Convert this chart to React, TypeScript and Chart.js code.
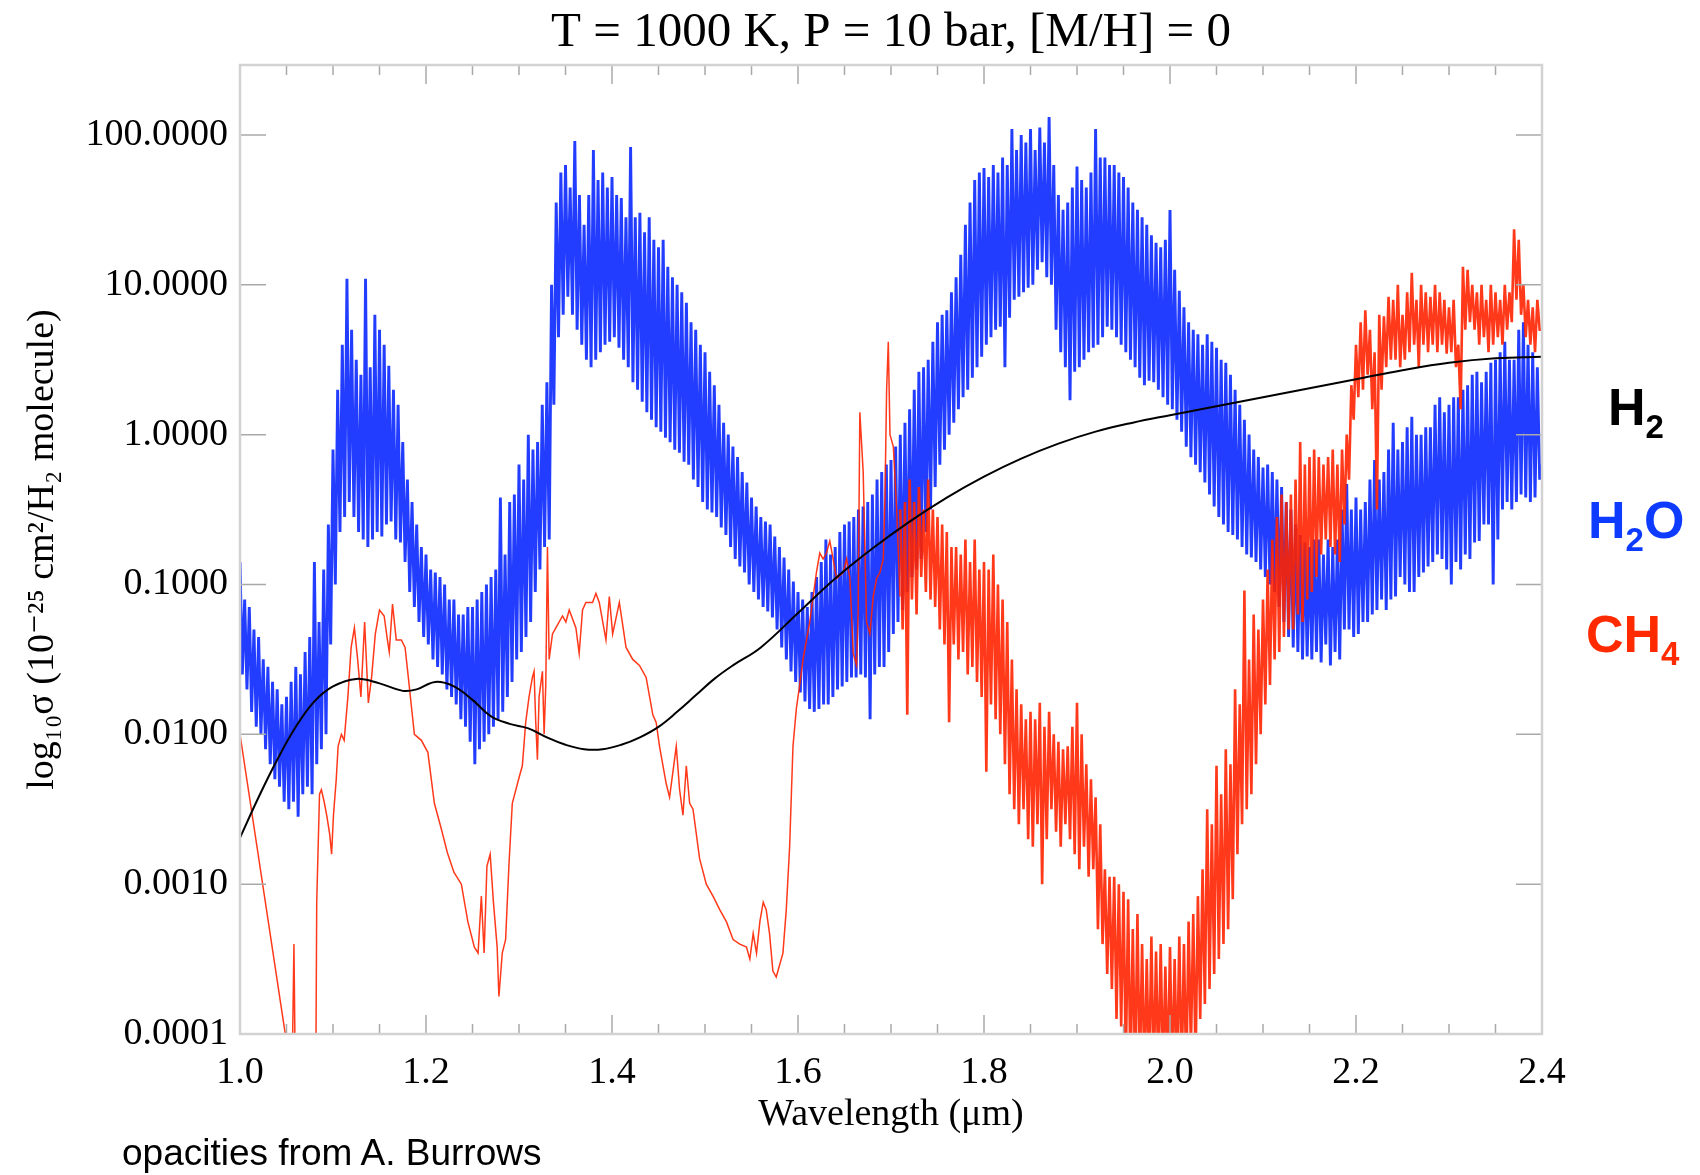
import React, { useEffect, useRef } from "react";
import { Chart, registerables } from "chart.js";

Chart.register(...registerables);

const TITLE = "T = 1000 K, P = 10 bar, [M/H] = 0";
const X_TITLE = "Wavelength (μm)";
const Y_TITLE = "log₁₀σ (10⁻²⁵ cm²/H₂ molecule)";
const FOOTNOTE = "opacities from A. Burrows";

const X_TICKS = [1.0, 1.2, 1.4, 1.6, 1.8, 2.0, 2.2, 2.4];
const Y_TICKS = [-4, -3, -2, -1, 0, 1, 2];
const Y_TICK_LABELS = ["0.0001", "0.0010", "0.0100", "0.1000", "1.0000", "10.0000", "100.0000"];
const X_MIN = 1.0;
const X_MAX = 2.4;
const Y_MIN = -4;
const Y_MAX = 2.467;

// H2 collision-induced opacity (smooth), log10 sigma
const H2_WAVE = [
  1.0, 1.02, 1.04, 1.06, 1.08, 1.1, 1.125, 1.15, 1.175, 1.19, 1.21, 1.23, 1.25, 1.27, 1.29,
  1.31, 1.33, 1.35, 1.37, 1.39, 1.41, 1.43, 1.45, 1.47, 1.49, 1.51, 1.53, 1.56, 1.6, 1.64,
  1.68, 1.72, 1.76, 1.8, 1.84, 1.88, 1.92, 1.96, 2.0, 2.05, 2.1, 2.15, 2.2, 2.25, 2.3, 2.35, 2.4,
];
const H2_LOGSIGMA = [
  -2.69, -2.42, -2.17, -1.95, -1.78, -1.68, -1.63, -1.66, -1.71, -1.7, -1.65, -1.68, -1.77, -1.88, -1.93,
  -1.96, -2.02, -2.07, -2.1, -2.1, -2.07, -2.02, -1.95, -1.85, -1.74, -1.63, -1.54, -1.42, -1.19, -0.96,
  -0.76, -0.58, -0.42, -0.28, -0.16, -0.06, 0.02, 0.08, 0.13, 0.19, 0.25, 0.31, 0.37, 0.43, 0.48, 0.51, 0.52,
];

// H2O opacity on a regular wavelength grid from 1.0 to 2.4 um, log10 sigma
const H2O_LOGSIGMA = [
  -0.85, -1.6, -1.1, -1.7,
  -1.15, -1.85, -1.3, -1.95,
  -1.35, -2.0, -1.5, -2.1,
  -1.55, -2.2, -1.65, -2.3,
  -1.7, -2.35, -1.8, -2.45,
  -1.75, -2.5, -1.65, -2.45,
  -1.55, -2.55, -1.6, -2.4,
  -1.45, -2.35, -1.35, -2.4,
  -0.85, -2.2, -1.25, -2.1,
  -0.9, -2.0, -0.6, -1.4,
  -0.1, -1.0, 0.3, -0.65,
  0.6, -0.55, 1.04, -0.45,
  0.7, -0.55, 0.5, -0.65,
  0.4, -0.7, 1.04, -0.75,
  0.45, -0.7, 0.8, -0.65,
  0.7, -0.68, 0.6, -0.6,
  0.46, -0.58, 0.3, -0.7,
  0.2, -0.72, -0.05, -0.85,
  -0.3, -1.05, -0.45, -1.15,
  -0.6, -1.25, -0.75, -1.35,
  -0.8, -1.4, -0.9, -1.5,
  -0.92, -1.55, -0.95, -1.6,
  -1.0, -1.7, -1.1, -1.75,
  -1.1, -1.8, -1.2, -1.9,
  -1.2, -1.95, -1.15, -2.05,
  -1.15, -2.2, -1.1, -2.1,
  -1.05, -2.05, -1.0, -2.0,
  -0.95, -1.95, -0.9, -1.9,
  -0.42, -1.85, -0.8, -1.75,
  -0.45, -1.65, -0.4, -1.5,
  -0.2, -1.45, -0.3, -1.35,
  0.0, -1.25, -0.1, -1.05,
  -0.05, -0.9, 0.2, -0.75,
  0.35, -0.7, 1.0, 0.2,
  1.55, 0.65, 1.75, 0.8,
  1.8, 0.92, 1.65, 0.8,
  1.96, 0.7, 1.6, 0.6,
  1.4, 0.5, 1.6, 0.45,
  1.9, 0.5, 1.7, 0.55,
  1.75, 0.6, 1.65, 0.62,
  1.72, 0.65, 1.6, 0.58,
  1.58, 0.5, 1.45, 0.45,
  1.92, 0.35, 1.45, 0.3,
  1.48, 0.22, 1.35, 0.15,
  1.45, 0.1, 1.3, 0.05,
  1.25, 0.02, 1.3, -0.02,
  1.12, -0.05, 1.05, -0.1,
  1.0, -0.12, 0.95, -0.18,
  0.88, -0.2, 0.75, -0.3,
  0.7, -0.35, 0.6, -0.45,
  0.55, -0.5, 0.42, -0.52,
  0.33, -0.55, 0.2, -0.62,
  0.08, -0.67, 0.0, -0.75,
  -0.08, -0.83, -0.15, -0.88,
  -0.25, -0.92, -0.32, -1.0,
  -0.42, -1.05, -0.48, -1.1,
  -0.55, -1.15, -0.58, -1.18,
  -0.6, -1.22, -0.68, -1.3,
  -0.75, -1.42, -0.82, -1.5,
  -0.9, -1.58, -0.98, -1.65,
  -1.05, -1.72, -1.1, -1.78,
  -1.15, -1.83, -1.05, -1.85,
  -0.95, -1.83, -0.85, -1.8,
  -0.7, -1.8, -0.8, -1.75,
  -0.75, -1.7, -0.65, -1.68,
  -0.6, -1.65, -0.58, -1.62,
  -0.55, -1.62, -0.5, -1.6,
  -0.48, -1.62, -0.45, -1.9,
  -0.4, -1.6, -0.3, -1.55,
  -0.25, -1.55, -0.2, -1.45,
  -0.17, -1.33, -0.08, -1.25,
  0.0, -1.17, 0.08, -1.05,
  0.17, -0.95, 0.3, -0.9,
  0.42, -0.83, 0.45, -0.65,
  0.5, -0.5, 0.62, -0.35,
  0.75, -0.2, 0.8, -0.1,
  0.83, 0.0, 0.95, 0.08,
  1.05, 0.17, 1.2, 0.25,
  1.4, 0.3, 1.55, 0.38,
  1.7, 0.45, 1.75, 0.52,
  1.78, 0.6, 1.72, 0.65,
  1.8, 0.7, 1.75, 0.72,
  1.85, 0.45, 1.8, 0.78,
  2.04, 0.9, 1.9, 0.92,
  2.0, 0.95, 1.95, 0.98,
  2.04, 1.0, 1.9, 1.1,
  2.05, 1.15, 1.95, 1.05,
  2.12, 1.0, 1.8, 0.7,
  1.6, 0.55, 1.5, 0.45,
  1.55, 0.23, 1.65, 0.42,
  1.79, 0.45, 1.7, 0.5,
  1.65, 0.55, 1.75, 0.58,
  2.04, 0.6, 1.85, 0.65,
  1.85, 0.72, 1.8, 0.7,
  1.8, 0.65, 1.75, 0.6,
  1.72, 0.55, 1.65, 0.5,
  1.55, 0.45, 1.5, 0.38,
  1.45, 0.33, 1.4, 0.36,
  1.33, 0.35, 1.28, 0.3,
  1.25, 0.25, 1.3, 0.2,
  1.5, 0.17, 1.1, 0.1,
  0.96, 0.02, 0.85, -0.08,
  0.75, -0.15, 0.7, -0.2,
  0.67, -0.25, 0.6, -0.32,
  0.67, -0.4, 0.62, -0.48,
  0.58, -0.55, 0.5, -0.6,
  0.48, -0.65, 0.4, -0.67,
  0.3, -0.7, 0.2, -0.75,
  0.1, -0.8, 0.0, -0.82,
  -0.1, -0.85, -0.15, -0.9,
  -0.22, -0.95, -0.2, -1.0,
  -0.25, -1.05, -0.3, -1.15,
  -0.35, -1.25, -0.45, -1.35,
  -0.5, -1.42, -0.6, -1.45,
  -0.67, -1.5, -0.72, -1.48,
  -0.75, -1.5, -0.7, -1.45,
  -0.7, -1.52, -0.8, -1.4,
  -0.7, -1.54, -0.75, -1.45,
  -0.7, -1.5, -0.5, -1.3,
  -0.33, -1.3, -0.5, -1.35,
  -0.42, -1.33, -0.5, -1.25,
  -0.45, -1.25, -0.3, -1.2,
  -0.17, -1.17, -0.3, -1.1,
  -0.25, -1.17, -0.1, -1.1,
  0.08, -1.08, -0.1, -0.95,
  -0.05, -1.0, 0.05, -1.05,
  0.12, -1.05, 0.0, -0.95,
  0.0, -0.92, 0.05, -0.88,
  0.05, -0.85, 0.2, -0.8,
  0.25, -0.83, 0.15, -0.9,
  0.2, -1.0, 0.25, -0.85,
  0.25, -0.9, 0.3, -0.8,
  0.33, -0.83, 0.4, -0.72,
  0.42, -0.71, 0.35, -0.6,
  0.42, -0.6, 0.48, -1.0,
  0.5, -0.7, 0.55, -0.5,
  0.62, -0.45, 0.5, -0.5,
  0.5, -0.45, 0.7, -0.4,
  0.75, -0.42, 0.6, -0.45,
  0.55, -0.42, 0.45, -0.3,
  -0.2,
];

// CH4 opacity, traced line 1.0 - 1.71 um (log10 sigma)
const CH4_WAVE = [
  1.0, 1.056, 1.058, 1.0595, 1.0815, 1.0825, 1.0855, 1.0875, 1.0905, 1.0935, 1.0965, 1.0985,
  1.1005, 1.1035, 1.1055, 1.109, 1.112, 1.116, 1.1195, 1.123, 1.1265, 1.13, 1.134, 1.138,
  1.1415, 1.1455, 1.15, 1.155, 1.1585, 1.1605, 1.164, 1.168, 1.1735, 1.1775, 1.181, 1.1875,
  1.195, 1.202, 1.209, 1.216, 1.223, 1.23, 1.238, 1.245, 1.252, 1.256, 1.2595, 1.2625,
  1.2655, 1.269, 1.2725, 1.2765, 1.2784, 1.282, 1.2856, 1.2892, 1.2928, 1.3, 1.3036, 1.3072,
  1.3108, 1.3144, 1.3162, 1.318, 1.3198, 1.3216, 1.3252, 1.327, 1.3288, 1.3306, 1.3324, 1.336,
  1.3396, 1.3468, 1.3504, 1.354, 1.3612, 1.3647, 1.3683, 1.3719, 1.3791, 1.3827, 1.3863, 1.3935,
  1.3971, 1.4007, 1.4079, 1.4151, 1.4223, 1.4295, 1.4367, 1.4439, 1.4475, 1.4511, 1.4583, 1.4619,
  1.4655, 1.4691, 1.4727, 1.4763, 1.4799, 1.4835, 1.4871, 1.4942, 1.5014, 1.5086, 1.5158, 1.523,
  1.5302, 1.5374, 1.5446, 1.5482, 1.5518, 1.5554, 1.559, 1.5626, 1.5658, 1.5694, 1.573, 1.5766,
  1.5802, 1.5838, 1.5874, 1.591, 1.5946, 1.5982, 1.6018, 1.6054, 1.6126, 1.6198, 1.6234, 1.627,
  1.6306, 1.6342, 1.6378, 1.6414, 1.6486, 1.6522, 1.6558, 1.6594, 1.663, 1.6647, 1.6665, 1.6701,
  1.6737, 1.6773, 1.6809, 1.6845, 1.6881, 1.6917, 1.6935, 1.6953, 1.6971, 1.6989, 1.7025, 1.7061,
  1.7097,
];
const CH4_LOGSIGMA = [
  -2.0, -4.3, -3.4, -4.3, -4.3, -3.12, -2.4, -2.37, -2.45, -2.55, -2.67, -2.8,
  -2.54, -2.3, -2.08, -2.0, -2.04, -1.75, -1.42, -1.29, -1.5, -1.75, -1.25, -1.79,
  -1.62, -1.33, -1.17, -1.21, -1.37, -1.45, -1.13, -1.37, -1.37, -1.42, -1.62, -2.0,
  -2.04, -2.12, -2.46, -2.62, -2.79, -2.92, -3.0, -3.25, -3.42, -3.46, -3.08, -3.46,
  -2.88, -2.8, -3.12, -3.42, -3.75, -3.46, -3.37, -2.87, -2.46, -2.29, -2.21, -1.92,
  -1.75, -1.62, -1.58, -1.92, -2.17, -1.75, -1.58, -2.0, -1.67, -0.75, -1.5, -1.33,
  -1.29, -1.21, -1.25, -1.17, -1.29, -1.46, -1.17, -1.12, -1.12, -1.06, -1.12, -1.37,
  -1.08, -1.33, -1.12, -1.42, -1.5, -1.54, -1.62, -1.87, -1.92, -2.08, -2.33, -2.42,
  -2.25, -2.08, -2.37, -2.54, -2.21, -2.46, -2.5, -2.83, -3.0, -3.08, -3.17, -3.25,
  -3.37, -3.4, -3.42, -3.5, -3.33, -3.46, -3.25, -3.12, -3.17, -3.33, -3.58, -3.62,
  -3.54, -3.46, -3.17, -2.75, -2.08, -1.83, -1.67, -1.5, -1.25, -0.92, -0.79, -0.83,
  -0.79, -0.71, -0.83, -0.96, -0.92, -0.83, -0.96, -1.46, -1.54, -1.17, 0.15, -0.25,
  -1.25, -1.33, -1.08, -0.96, -0.92, -0.83, -0.42, 0.3, 0.62, 0.0, -0.08, -0.5,
  -1.08,
];

// CH4 opacity, dense band on a regular grid from 1.71 to 2.4 um (log10 sigma)
const CH4_BAND_START = 1.71;
const CH4_BAND_LOGSIGMA = [
  -0.5, -1.3, -0.45, -1.87,
  -0.3, -1.1, -0.45, -1.2,
  -0.35, -0.95, -0.5, -1.05,
  -0.3, -1.1, -0.5, -1.15,
  -0.55, -1.3, -0.6, -1.4,
  -0.65, -1.92, -0.75, -1.4,
  -0.75, -1.5, -0.8, -1.45,
  -0.7, -1.6, -0.85, -1.55,
  -0.7, -1.65, -0.9, -1.75,
  -0.85, -2.25, -0.9, -1.8,
  -0.8, -1.9, -1.0, -2.0,
  -1.1, -2.2, -1.25, -2.4,
  -1.5, -2.5, -1.7, -2.6,
  -1.8, -2.5, -1.9, -2.7,
  -1.85, -2.75, -1.9, -2.6,
  -1.79, -3.0, -1.95, -2.7,
  -1.85, -2.5, -2.0, -2.65,
  -2.05, -2.75, -2.1, -2.6,
  -2.08, -2.7, -1.95, -2.8,
  -1.79, -2.9, -2.0, -2.75,
  -2.2, -2.95, -2.3, -2.9,
  -2.42, -3.3, -2.6, -3.4,
  -2.9, -3.6, -2.95, -3.7,
  -2.95, -3.9, -3.0, -3.95,
  -3.05, -4.2, -3.1, -4.3,
  -3.3, -4.3, -3.2, -4.3,
  -3.4, -4.3, -3.5, -4.3,
  -3.35, -4.3, -3.45, -4.3,
  -3.4, -4.3, -3.55, -4.3,
  -3.42, -4.3, -3.5, -4.3,
  -3.35, -4.3, -3.4, -4.3,
  -3.25, -4.1, -3.2, -4.2,
  -3.08, -3.9, -2.9, -3.8,
  -2.5, -3.7, -2.6, -3.6,
  -2.21, -3.5, -2.4, -3.4,
  -2.1, -3.3, -2.2, -3.1,
  -1.7, -2.8, -1.8, -2.6,
  -1.04, -2.5, -1.5, -2.4,
  -1.2, -2.2, -1.3, -2.0,
  -1.1, -1.8, -0.9, -1.67,
  -0.7, -1.5, -0.55, -1.45,
  -0.4, -1.35, -0.45, -1.3,
  -0.4, -1.3, -0.3, -1.2,
  -0.05, -1.25, -0.2, -1.1,
  -0.15, -1.05, -0.1, -0.95,
  -0.15, -0.8, -0.2, -0.7,
  -0.15, -0.75, -0.1, -0.8,
  -0.2, -0.85, -0.1, -0.6,
  0.0, -0.3, 0.33, 0.1,
  0.6, 0.25, 0.75, 0.3,
  0.83, 0.4, 0.7, 0.17,
  0.55, -0.5, 0.8, 0.3,
  0.79, 0.45, 0.92, 0.5,
  0.9, 0.5, 1.0, 0.45,
  0.8, 0.5, 0.95, 0.55,
  1.08, 0.6, 0.9, 0.45,
  1.0, 0.6, 0.95, 0.55,
  0.92, 0.6, 1.0, 0.55,
  0.95, 0.6, 0.9, 0.54,
  0.85, 0.55, 0.9, 0.45,
  0.6, 0.17, 1.12, 0.7,
  1.1, 0.75, 1.0, 0.7,
  0.95, 0.6, 1.0, 0.65,
  0.9, 0.55, 1.0, 0.6,
  0.95, 0.65, 0.9, 0.6,
  1.0, 0.7, 0.95, 0.75,
  1.37, 0.9, 1.3, 0.8,
  1.0, 0.65, 0.9, 0.6,
  0.85, 0.55, 0.9, 0.7,
  0.7,
];

const SERIF = "'Liberation Serif', 'Times New Roman', 'DejaVu Serif', serif";
const SANS = "'Liberation Sans', Arial, Helvetica, sans-serif";

const COLOR_H2 = "#000000";
const COLOR_H2O = "rgba(10, 40, 255, 0.9)";
const COLOR_CH4 = "rgba(255, 36, 0, 0.9)";

const gridPoints = (values: number[], start: number, end: number) =>
  values.map((v, i) => ({ x: start + (i * (end - start)) / (values.length - 1), y: v }));

const pairedPoints = (xs: number[], ys: number[]) => xs.map((x, i) => ({ x, y: ys[i] }));

const plotTitle = {
  id: "plotTitle",
  afterDraw(chart: any) {
    const { ctx, chartArea: a } = chart;
    ctx.save();
    ctx.font = `49px ${SERIF}`;
    ctx.fillStyle = "#000";
    ctx.textAlign = "center";
    ctx.textBaseline = "alphabetic";
    ctx.fillText(TITLE, (a.left + a.right) / 2, 46);
    ctx.restore();
  },
};

const frameAndTicks = {
  id: "frameAndTicks",
  afterDatasetsDraw(chart: any) {
    const { ctx, chartArea: a, scales } = chart;
    const xs = scales.x;
    const ys = scales.y;
    ctx.save();
    ctx.strokeStyle = "#a9a9a9";
    ctx.lineWidth = 1.5;
    ctx.beginPath();
    for (let k = 0; k <= 28; k++) {
      const v = X_MIN + k * 0.05;
      const px = xs.getPixelForValue(v);
      const len = k % 4 === 0 ? 19 : 10;
      ctx.moveTo(px, a.bottom);
      ctx.lineTo(px, a.bottom - len);
      ctx.moveTo(px, a.top);
      ctx.lineTo(px, a.top + len);
    }
    for (const v of Y_TICKS) {
      const py = ys.getPixelForValue(v);
      ctx.moveTo(a.left, py);
      ctx.lineTo(a.left + 26, py);
      ctx.moveTo(a.right, py);
      ctx.lineTo(a.right - 26, py);
    }
    ctx.stroke();
    ctx.strokeStyle = "#d2d2d2";
    ctx.lineWidth = 2.5;
    ctx.strokeRect(a.left, a.top, a.right - a.left, a.bottom - a.top);
    ctx.restore();
  },
};

function SpeciesLabel(props: { main: string[]; sub: string[]; color: string; left: number; top: number }) {
  const { main, sub, color, left, top } = props;
  return (
    <div
      style={{
        position: "absolute",
        left,
        top,
        color,
        fontFamily: SANS,
        fontWeight: "bold",
        fontSize: 52,
        lineHeight: "52px",
        whiteSpace: "nowrap",
      }}
    >
      {main.map((m, i) => (
        <React.Fragment key={i}>
          {m}
          {sub[i] ? (
            <span style={{ fontSize: 33, position: "relative", top: 13 }}>{sub[i]}</span>
          ) : null}
        </React.Fragment>
      ))}
    </div>
  );
}

export default function App() {
  const canvasRef = useRef<HTMLCanvasElement | null>(null);

  useEffect(() => {
    const canvas = canvasRef.current;
    if (!canvas) return;
    const chart = new Chart(canvas, {
      type: "line",
      data: {
        datasets: [
          {
            label: "H2",
            data: pairedPoints(H2_WAVE, H2_LOGSIGMA),
            borderColor: COLOR_H2,
            borderWidth: 2,
            pointRadius: 0,
            tension: 0.4,
            order: 0,
          },
          {
            label: "CH4 band",
            data: gridPoints(CH4_BAND_LOGSIGMA, CH4_BAND_START, X_MAX),
            borderColor: COLOR_CH4,
            borderWidth: 2.6,
            pointRadius: 0,
            tension: 0,
            order: 1,
          },
          {
            label: "CH4",
            data: pairedPoints(CH4_WAVE, CH4_LOGSIGMA),
            borderColor: COLOR_CH4,
            borderWidth: 1.5,
            pointRadius: 0,
            tension: 0,
            order: 1,
          },
          {
            label: "H2O",
            data: gridPoints(H2O_LOGSIGMA, X_MIN, X_MAX),
            borderColor: COLOR_H2O,
            borderWidth: 2.9,
            pointRadius: 0,
            tension: 0,
            order: 2,
          },
        ],
      },
      options: {
        responsive: false,
        maintainAspectRatio: false,
        animation: false,
        parsing: false,
        layout: { padding: { left: 0, right: 158, top: 65, bottom: 0 } },
        plugins: {
          legend: { display: false },
          tooltip: { enabled: false },
          title: { display: false },
        },
        scales: {
          x: {
            type: "linear",
            min: X_MIN,
            max: X_MAX,
            afterBuildTicks: (s: any) => {
              s.ticks = X_TICKS.map((v) => ({ value: v }));
            },
            afterFit: (s: any) => {
              s.height = 141;
            },
            ticks: {
              callback: (v: any) => Number(v).toFixed(1),
              font: { family: SERIF, size: 38 },
              color: "#000",
              padding: 16,
              maxRotation: 0,
              autoSkip: false,
            },
            grid: { display: false, drawTicks: false },
            border: { display: false },
            title: {
              display: true,
              text: X_TITLE,
              color: "#000",
              font: { family: SERIF, size: 38 },
              padding: { top: 0, bottom: 37 },
            },
          },
          y: {
            type: "linear",
            min: Y_MIN,
            max: Y_MAX,
            afterBuildTicks: (s: any) => {
              s.ticks = Y_TICKS.map((v) => ({ value: v }));
            },
            afterFit: (s: any) => {
              s.width = 240;
            },
            ticks: {
              callback: (v: any) => {
                const idx = Y_TICKS.indexOf(Math.round(Number(v)));
                return idx >= 0 ? Y_TICK_LABELS[idx] : "";
              },
              font: { family: SERIF, size: 38 },
              color: "#000",
              padding: 12,
              autoSkip: false,
            },
            grid: { display: false, drawTicks: false },
            border: { display: false },
            title: {
              display: true,
              text: Y_TITLE,
              color: "#000",
              font: { family: SERIF, size: 38 },
              padding: { top: 20, bottom: 0 },
            },
          },
        },
      },
      plugins: [frameAndTicks, plotTitle],
    } as any);
    return () => chart.destroy();
  }, []);

  return (
    <div
      style={{
        position: "absolute",
        left: 0,
        top: 0,
        width: 1700,
        height: 1175,
        background: "#fff",
        overflow: "hidden",
      }}
    >
      <canvas ref={canvasRef} width={1700} height={1175} style={{ display: "block" }} />
      <SpeciesLabel main={["H"]} sub={["2"]} color="#000" left={1608} top={381} />
      <SpeciesLabel main={["H", "O"]} sub={["2", ""]} color="#0d3bff" left={1588} top={494} />
      <SpeciesLabel main={["CH"]} sub={["4"]} color="#ff2a00" left={1586} top={608} />
      <div
        style={{
          position: "absolute",
          left: 122,
          top: 1134,
          fontFamily: SANS,
          fontSize: 37,
          lineHeight: "37px",
          color: "#000",
          whiteSpace: "nowrap",
        }}
      >
        {FOOTNOTE}
      </div>
    </div>
  );
}
